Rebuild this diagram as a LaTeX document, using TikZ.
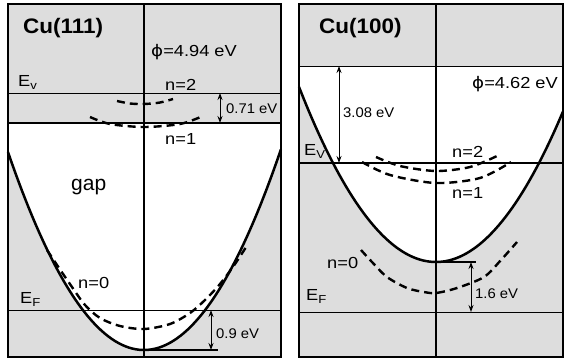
\documentclass[tikz,border=0pt]{standalone}
\usepackage{fontspec}
\setmainfont{Liberation Sans}
\newfontfamily\phifont{DejaVu Sans}
\usetikzlibrary{arrows.meta}
\definecolor{bandgray}{RGB}{221,221,221}
\tikzset{
  frameline/.style={line width=1.8pt},
  hline/.style={line width=0.9pt},
  hlinethick/.style={line width=1.3pt},
  vline/.style={line width=1.4pt},
  band/.style={line width=2.5pt},
  surf/.style={line width=2.4pt, dash pattern=on 8pt off 5pt},
  dim/.style={line width=1pt, {Stealth[length=7pt,width=5pt]}-{Stealth[length=7pt,width=5pt]}},
  lbl/.style={anchor=base west, inner sep=0pt, font=\fontsize{16}{18}\selectfont, xscale=1.14},
  small/.style={anchor=base west, inner sep=0pt, font=\fontsize{14}{16}\selectfont, xscale=1.06},
  title/.style={anchor=base west, inner sep=0pt, font=\fontsize{21}{24}\selectfont\bfseries, xscale=1.07},
}
\newcommand{\sub}[1]{\raisebox{-3.5pt}{\fontsize{11.5}{12}\selectfont #1}}
\begin{document}
\begin{tikzpicture}[x=1pt,y=-1pt]
\useasboundingbox (0,0) rectangle (564,360);
% ---------------- Left panel: Cu(111)
\fill[bandgray] (8,4) rectangle (281,357);
\begin{scope}
  \clip (8,123) rectangle (281,357);
  \fill[white] plot[domain=-1.36:1.37, samples=80] ({144+100*\x}, {350-107*\x*\x}) -- (281,0) -- (8,0) -- cycle;
\end{scope}
\draw[hline] (8,93) -- (281,93);
\draw[hlinethick] (8,123) -- (281,123);
\draw[hline] (8,310) -- (281,310);
\draw[band] plot[domain=-1.36:1.37, samples=80] ({144+100*\x}, {350-107*\x*\x});
\draw[surf] plot[smooth] coordinates {(117,101) (130,103.5) (144,104) (160,102.5) (173,99)};
\draw[surf] plot[smooth] coordinates {(90,117) (110,124) (144,127) (180,124) (203,116)};
\draw[surf] plot[smooth] coordinates {(47,250) (59,268) (72,287) (85,305) (100,318) (120,326) (144,329) (170,324) (190,313) (205,300) (220,284) (235,264) (248,244)};
\draw[vline] (144,4) -- (144,357);
\coordinate (Lv) at (144,350);
\coordinate (Lvend) at (218,350);
\draw[band, line width=1.6pt] (Lv) -- (Lvend);
\coordinate (a1t) at (220,93);
\coordinate (a1b) at (220,123);
\draw[dim] (a1t) -- (a1b);
\coordinate (a2t) at (211,310);
\coordinate (a2b) at (211,350);
\draw[dim] (a2t) -- (a2b);
\draw[frameline] (8,4) rectangle (281,357);
\node[title] (t1) at (23,33) {Cu(111)};
\node[lbl] (phi1) at (151,56) {{\phifont ϕ}=4.94 eV};
\node[lbl] (ev1) at (18,86) {E\sub{v}};
\node[lbl] (n21) at (165,90) {n=2};
\node[small] (d1) at (226,113) {0.71 eV};
\node[lbl] (n11) at (165,144) {n=1};
\node[anchor=base west, inner sep=0pt, font=\fontsize{21}{24}\selectfont] (gap) at (71,190) {gap};
\node[lbl] (n01) at (78,288) {n=0};
\node[lbl] (ef1) at (20,303) {E\sub{F}};
\node[small] (d2) at (216,338) {0.9 eV};
% ---------------- Right panel: Cu(100)
\fill[bandgray] (299,4) rectangle (563,357);
\begin{scope}
  \clip (299,66) rectangle (563,357);
  \fill[white] plot[domain=-1.37:1.27, samples=80] ({436+100*\x}, {262-93.3*\x*\x}) -- (563,0) -- (299,0) -- cycle;
\end{scope}
\draw[hline] (299,66) -- (563,66);
\draw[hlinethick] (299,163) -- (563,163);
\draw[hline] (299,312) -- (563,312);
\draw[band] plot[domain=-1.37:1.27, samples=80] ({436+100*\x}, {262-93.3*\x*\x});
\draw[surf] plot[smooth] coordinates {(376,157) (400,166) (436,171) (470,167) (497,156)};
\draw[surf] plot[smooth] coordinates {(362,162) (390,175) (436,183) (480,178) (511,162)};
\draw[surf] plot[smooth] coordinates {(361,250) (372,262) (387,277) (407,288) (424,292) (436,293) (457,288) (484,277) (501,260) (517,242)};
\draw[vline] (436,4) -- (436,357);
\coordinate (Rv) at (436,262);
\coordinate (Rvend) at (476,262);
\draw[band, line width=1.6pt] (Rv) -- (Rvend);
\coordinate (a3t) at (339,66);
\coordinate (a3b) at (339,163);
\draw[dim] (a3t) -- (a3b);
\coordinate (a4t) at (471,262);
\coordinate (a4b) at (471,312);
\draw[dim] (a4t) -- (a4b);
\draw[frameline] (299,4) rectangle (563,357);
\node[title] (t2) at (319,33) {Cu(100)};
\node[lbl] (phi2) at (472,88) {{\phifont ϕ}=4.62 eV};
\node[small] (d3) at (343,117) {3.08 eV};
\node[lbl] (ev2) at (304,155) {E\sub{V}};
\node[lbl] (n22) at (452,157) {n=2};
\node[lbl] (n12) at (452,198) {n=1};
\node[lbl] (n02) at (327,268) {n=0};
\node[lbl] (ef2) at (306,300) {E\sub{F}};
\node[small] (d4) at (475,298) {1.6 eV};
\end{tikzpicture}
\end{document}
